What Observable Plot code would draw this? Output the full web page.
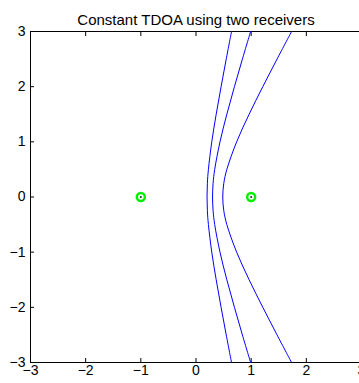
<!DOCTYPE html>
<html><head><meta charset="utf-8">
<script src="https://cdn.jsdelivr.net/npm/d3@7"></script>
<script src="https://cdn.jsdelivr.net/npm/@observablehq/plot@0.6"></script>
<style>body{margin:0;background:#fff;font-family:"Liberation Sans",Arial,sans-serif}</style>
</head><body><div id="chart"></div>
<script>
const title = "Constant TDOA using two receivers";
const ys = [-3, -2.5, -2, -1.5, -1, -0.5, -0.25, 0, 0.25, 0.5, 1, 1.5, 2, 2.5, 3];
const curveA = [0.644, 0.548, 0.455, 0.366, 0.286, 0.225, 0.206, 0.2, 0.206, 0.225, 0.286, 0.366, 0.455, 0.548, 0.644];
const curveB = [0.99, 0.841, 0.697, 0.559, 0.435, 0.339, 0.31, 0.3, 0.31, 0.339, 0.435, 0.559, 0.697, 0.841, 0.99];
const curveC = [1.733, 1.469, 1.211, 0.963, 0.737, 0.559, 0.504, 0.485, 0.504, 0.559, 0.737, 0.963, 1.211, 1.469, 1.733];
const receiversX = [-1, 1];
const receiversY = [0, 0];
const xTicks = [-3, -2, -1, 0, 1, 2, 3];
const yTicks = [-3, -2, -1, 0, 1, 2, 3];

const lines = [];
[curveA, curveB, curveC].forEach((c, k) => ys.forEach((y, i) => lines.push({k, x: c[i], y})));
const receivers = receiversX.map((x, i) => ({x, y: receiversY[i]}));
const fmt = d => d < 0 ? "\u2212" + Math.abs(d) : String(d);

const plot = Plot.plot({
  width: 359, height: 383,
  marginLeft: 30, marginRight: -2, marginTop: 31, marginBottom: 21,
  style: {fontFamily: '"Liberation Sans", Arial, sans-serif', fontSize: "14px", background: "#fff", overflow: "visible"},
  x: {domain: [-3, 3]},
  y: {domain: [-3, 3]},
  marks: [
    Plot.frame({stroke: "#000"}),
    Plot.axisX(xTicks, {anchor: "bottom", tickSize: -4, tickPadding: 7, tickFormat: fmt, fill: "#000", stroke: "#000", fontSize: 14, label: null}),
    Plot.axisX(xTicks, {anchor: "top", tickSize: -4, tickFormat: () => "", stroke: "#000", label: null}),
    Plot.axisY(yTicks, {anchor: "left", tickSize: -4, tickPadding: 9, tickFormat: fmt, fill: "#000", stroke: "#000", fontSize: 14, label: null}),
    Plot.line(lines, {x: "x", y: "y", z: "k", stroke: "#0000ff", strokeWidth: 1, curve: "catmull-rom"}),
    Plot.dot(receivers, {x: "x", y: "y", r: 4, stroke: "#00ee00", strokeWidth: 2.5, fill: "none"}),
    Plot.dot(receivers, {x: "x", y: "y", r: 1, fill: "#222"}),
    Plot.text([title], {frameAnchor: "top", dy: -17, text: d => d, fontSize: 15, fill: "#000"})
  ]
});
document.getElementById("chart").appendChild(plot);
</script></body></html>
